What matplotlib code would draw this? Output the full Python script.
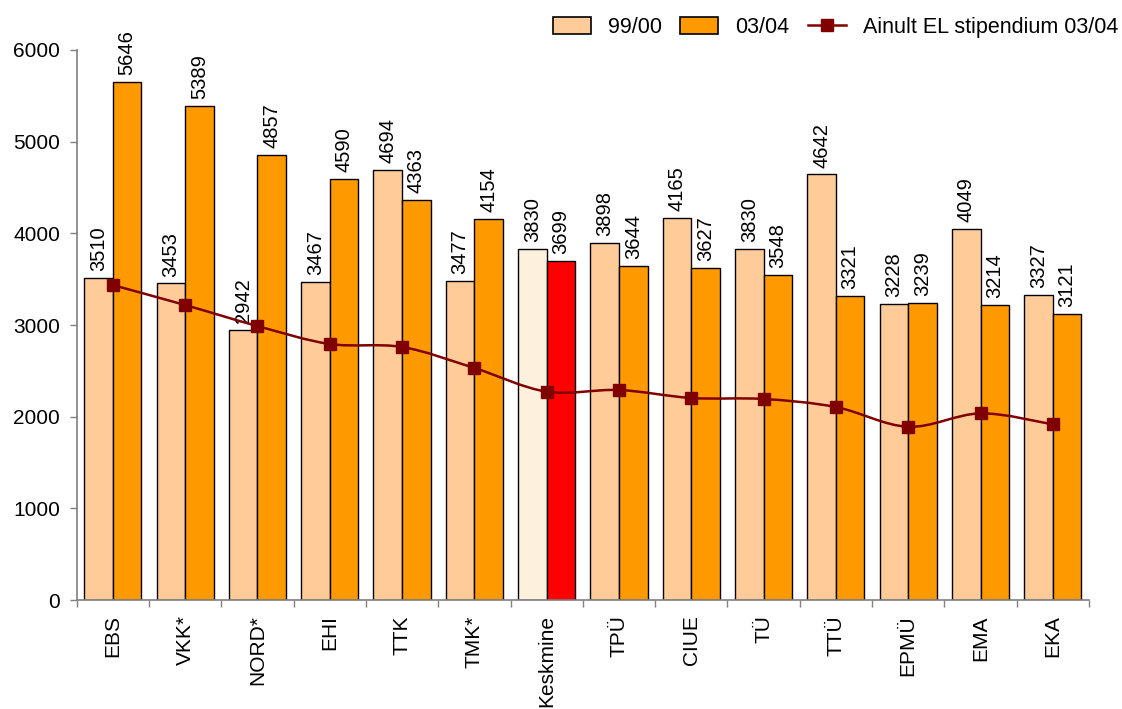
import numpy as np
import matplotlib
matplotlib.use("Agg")
import matplotlib.pyplot as plt
from matplotlib.path import Path
from matplotlib.patches import PathPatch, Patch
from matplotlib.lines import Line2D

plt.rcParams['font.family'] = ['Liberation Sans', 'DejaVu Sans']

categories = ['EBS', 'VKK*', 'NORD*', 'EHI', 'TTK', 'TMK*', 'Keskmine',
              'TPÜ', 'CIUE', 'TÜ', 'TTÜ', 'EPMÜ', 'EMA', 'EKA']
values_9900 = [3510, 3453, 2942, 3467, 4694, 3477, 3830,
               3898, 4165, 3830, 4642, 3228, 4049, 3327]
values_0304 = [5646, 5389, 4857, 4590, 4363, 4154, 3699,
               3644, 3627, 3548, 3321, 3239, 3214, 3121]
el_only_0304 = [3436, 3218, 2989, 2793, 2760, 2531, 2273,
                2291, 2204, 2193, 2105, 1890, 2036, 1916]

c_old = '#FFCC99'
c_new = '#FF9900'
c_avg_old = '#FDF1DD'
c_avg_new = '#FF0000'
c_line = '#800000'

fig = plt.figure(figsize=(11.22, 7.09), dpi=100)
ax = fig.add_axes([0.0683, 0.1537, 0.9023, 0.7758])

x = np.arange(len(categories))
w = 0.395
avg_idx = categories.index('Keskmine')
cols_old = [c_avg_old if i == avg_idx else c_old for i in x]
cols_new = [c_avg_new if i == avg_idx else c_new for i in x]

ax.bar(x - w / 2, values_9900, w, color=cols_old, edgecolor='black', linewidth=1.0, zorder=2)
ax.bar(x + w / 2, values_0304, w, color=cols_new, edgecolor='black', linewidth=1.0, zorder=2)

for xi, v in zip(x, values_9900):
    ax.annotate(str(v), (xi - w / 2, v), xytext=(0, 5), textcoords='offset points',
                rotation=90, ha='center', va='bottom', fontsize=14.5)
for xi, v in zip(x, values_0304):
    ax.annotate(str(v), (xi + w / 2, v), xytext=(0, 5), textcoords='offset points',
                rotation=90, ha='center', va='bottom', fontsize=14.5)

# smoothed line (Excel style) drawn as bezier segments through the data points
ys = np.array(el_only_0304, dtype=float)
xs = x.astype(float)
verts = [(xs[0], ys[0])]
codes = [Path.MOVETO]
t = 1.0 / 6.0
for i in range(len(xs) - 1):
    p0 = (xs[max(i - 1, 0)], ys[max(i - 1, 0)])
    p1 = (xs[i], ys[i])
    p2 = (xs[i + 1], ys[i + 1])
    p3 = (xs[min(i + 2, len(xs) - 1)], ys[min(i + 2, len(xs) - 1)])
    c1 = (p1[0] + (p2[0] - p0[0]) * t, p1[1] + (p2[1] - p0[1]) * t)
    c2 = (p2[0] - (p3[0] - p1[0]) * t, p2[1] - (p3[1] - p1[1]) * t)
    verts += [c1, c2, p2]
    codes += [Path.CURVE4] * 3
ax.add_patch(PathPatch(Path(verts, codes), facecolor='none', edgecolor=c_line,
                       linewidth=1.8, zorder=3))
ax.plot(xs, ys, linestyle='none', marker='s', markersize=9, color=c_line, zorder=4)

ax.set_xlim(-0.5, len(categories) - 0.5)
ax.set_ylim(0, 6000)
ax.set_yticks(range(0, 6001, 1000))
ax.tick_params(axis='y', labelsize=15, length=5, width=1, color='#808080',
               direction='out', pad=7)

ax.set_xticks(x)
ax.set_xticklabels(categories, rotation=90, fontsize=15)
ax.tick_params(axis='x', which='major', length=0, pad=11)
ax.set_xticks(np.arange(-0.5, len(categories), 1.0), minor=True)
ax.tick_params(axis='x', which='minor', length=5, width=1, color='#808080', direction='out')

for s in ['top', 'right']:
    ax.spines[s].set_visible(False)
for s in ['left', 'bottom']:
    ax.spines[s].set_color('#808080')
    ax.spines[s].set_linewidth(1.2)

handles = [Patch(facecolor=c_old, edgecolor='black', linewidth=1.2),
           Patch(facecolor=c_new, edgecolor='black', linewidth=1.2),
           Line2D([0], [0], color=c_line, linewidth=1.8, marker='s', markersize=9)]
labels = ['99/00', '03/04', 'Ainult EL stipendium 03/04']
fig.legend(handles, labels, loc='upper right', bbox_to_anchor=(1.014, 1.004), ncol=3,
           frameon=False, fontsize=15.5, handlelength=1.77, handleheight=0.85,
           columnspacing=0.84, handletextpad=0.8)

fig.savefig('out.png', dpi=100)
